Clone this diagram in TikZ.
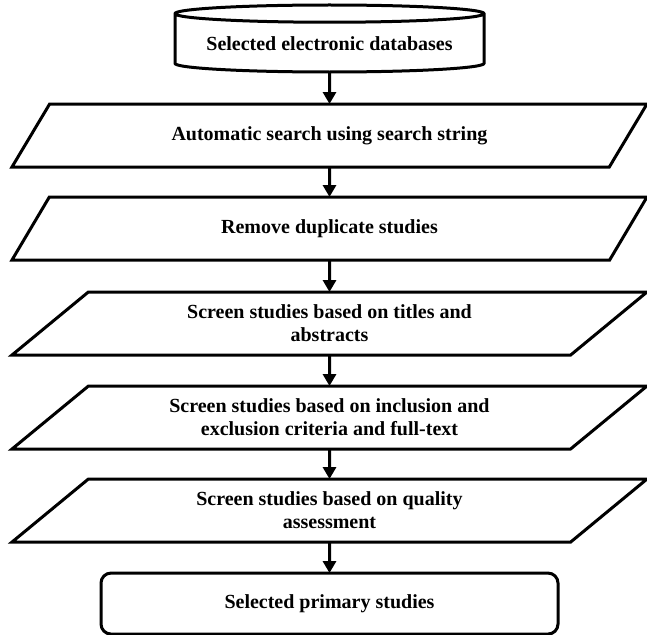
\documentclass[tikz,border=0pt]{standalone}
\usepackage{fontspec}
\setmainfont{Liberation Serif}
\usetikzlibrary{positioning,arrows.meta,shapes.geometric}

\begin{document}
\begin{tikzpicture}[x=1pt,y=-1pt,font=\fontsize{20}{23}\selectfont\bfseries,
  >={Triangle[length=12pt,width=13pt]},node distance=31pt,line width=3pt,outer sep=0pt,
  dbs/.style={draw,cylinder,shape border rotate=90,aspect=0.07,minimum width=309pt,minimum height=67pt,inner sep=0pt},
  iobox/.style={draw,trapezium,trapezium left angle=25.9,trapezium right angle=154.1,trapezium stretches body,
    minimum width=635pt,minimum height=63pt,align=center,inner sep=0pt},
  endbox/.style={draw,rounded corners=10pt,minimum width=457pt,minimum height=61pt,align=center}]
  \useasboundingbox (0,0) rectangle (647,634);
  \node[dbs,anchor=south] (db) at (329.5,72) {Selected electronic databases};
  \node[iobox,below=32pt of db] (auto) {Automatic search using search string};
  \node[iobox,below=30pt of auto] (dup) {Remove duplicate studies};
  \node[iobox,below=32pt of dup] (title) {Screen studies based on titles and\\abstracts};
  \node[iobox,below=of title] (incl) {Screen studies based on inclusion and\\exclusion criteria and full-text};
  \node[iobox,below=30pt of incl] (qual) {Screen studies based on quality\\assessment};
  \node[endbox,below=of qual] (prim) {Selected primary studies};
  \draw[->] (db)--(auto); \draw[->] (auto)--(dup); \draw[->] (dup)--(title);
  \draw[->] (title)--(incl); \draw[->] (incl)--(qual); \draw[->] (qual)--(prim);
\end{tikzpicture}
\end{document}
